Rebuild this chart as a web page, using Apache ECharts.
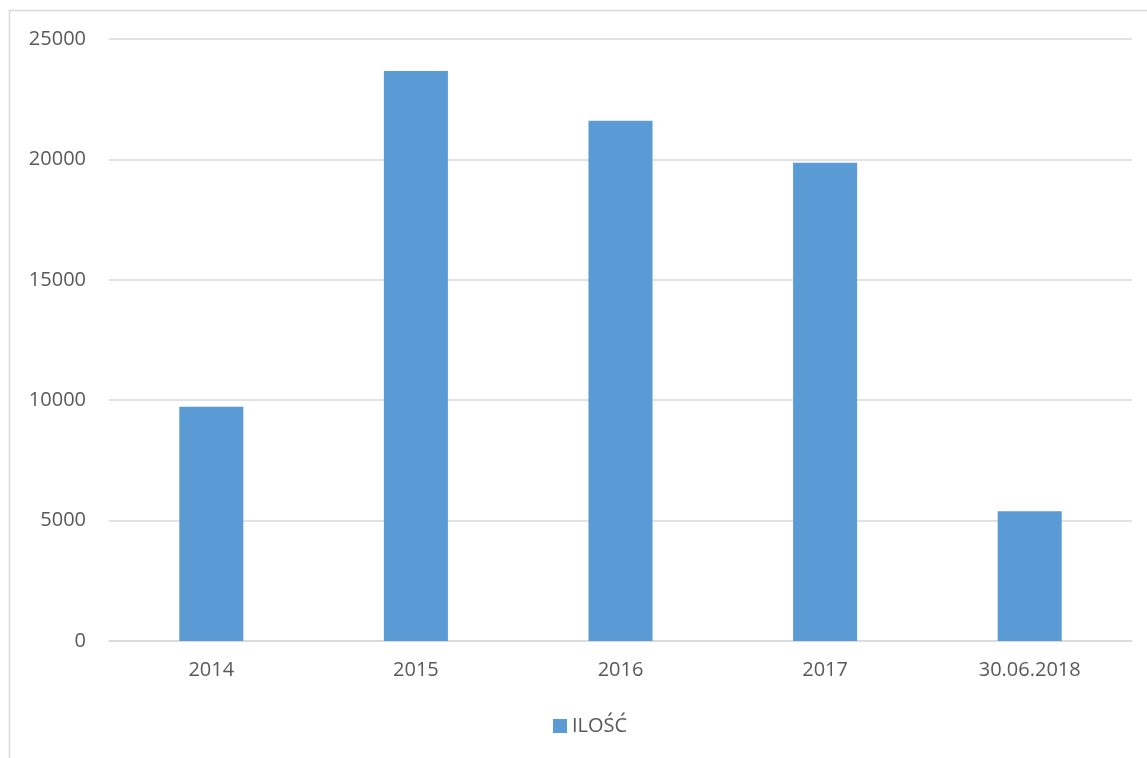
<!DOCTYPE html>
<html>
<head>
<meta charset="utf-8">
<script src="https://cdn.jsdelivr.net/npm/echarts@6/dist/echarts.min.js"></script>
<style>
html,body{margin:0;padding:0;background:#fff;}
#main{width:1147px;height:758px;}
</style>
</head>
<body>
<div id="main"></div>
<script>
const categories = ['2014', '2015', '2016', '2017', '30.06.2018'];
const seriesName = 'ILOŚĆ';
const values = [9730, 23670, 21600, 19860, 5390];
const yTicks = { min: 0, max: 25000, interval: 5000 };

const chart = echarts.init(document.getElementById('main'), null, { renderer: 'canvas' });
const font = '"Open Sans", "Noto Sans", sans-serif';
chart.setOption({
  animation: false,
  backgroundColor: '#ffffff',
  graphic: [{
    type: 'rect',
    shape: { x: 9.5, y: 10.5, width: 1200, height: 800 },
    style: { fill: 'none', stroke: '#d9d9d9', lineWidth: 1.5 },
    silent: true
  }],
  grid: { left: 109, right: 15, top: 39, bottom: 117, containLabel: false },
  legend: {
    data: [seriesName],
    top: 716,
    left: 553,
    padding: 0,
    icon: 'rect',
    itemWidth: 14,
    itemHeight: 14,
    itemGap: 6,
    textStyle: { color: '#595959', fontSize: 20, fontFamily: font }
  },
  xAxis: {
    type: 'category',
    data: categories,
    axisLine: { show: true, lineStyle: { color: '#d9d9d9', width: 1.5 } },
    axisTick: { show: false },
    axisLabel: { color: '#595959', fontSize: 20, fontFamily: font, margin: 19 }
  },
  yAxis: {
    type: 'value',
    min: yTicks.min,
    max: yTicks.max,
    interval: yTicks.interval,
    axisLine: { show: false },
    axisTick: { show: false },
    splitLine: { lineStyle: { color: '#d9d9d9', width: 1.5 } },
    axisLabel: { color: '#595959', fontSize: 20, fontFamily: font, margin: 23, formatter: v => String(v) }
  },
  series: [{
    name: seriesName,
    type: 'bar',
    data: values,
    barWidth: '31.3%',
    itemStyle: { color: '#5b9bd5' }
  }]
});
</script>
</body>
</html>
